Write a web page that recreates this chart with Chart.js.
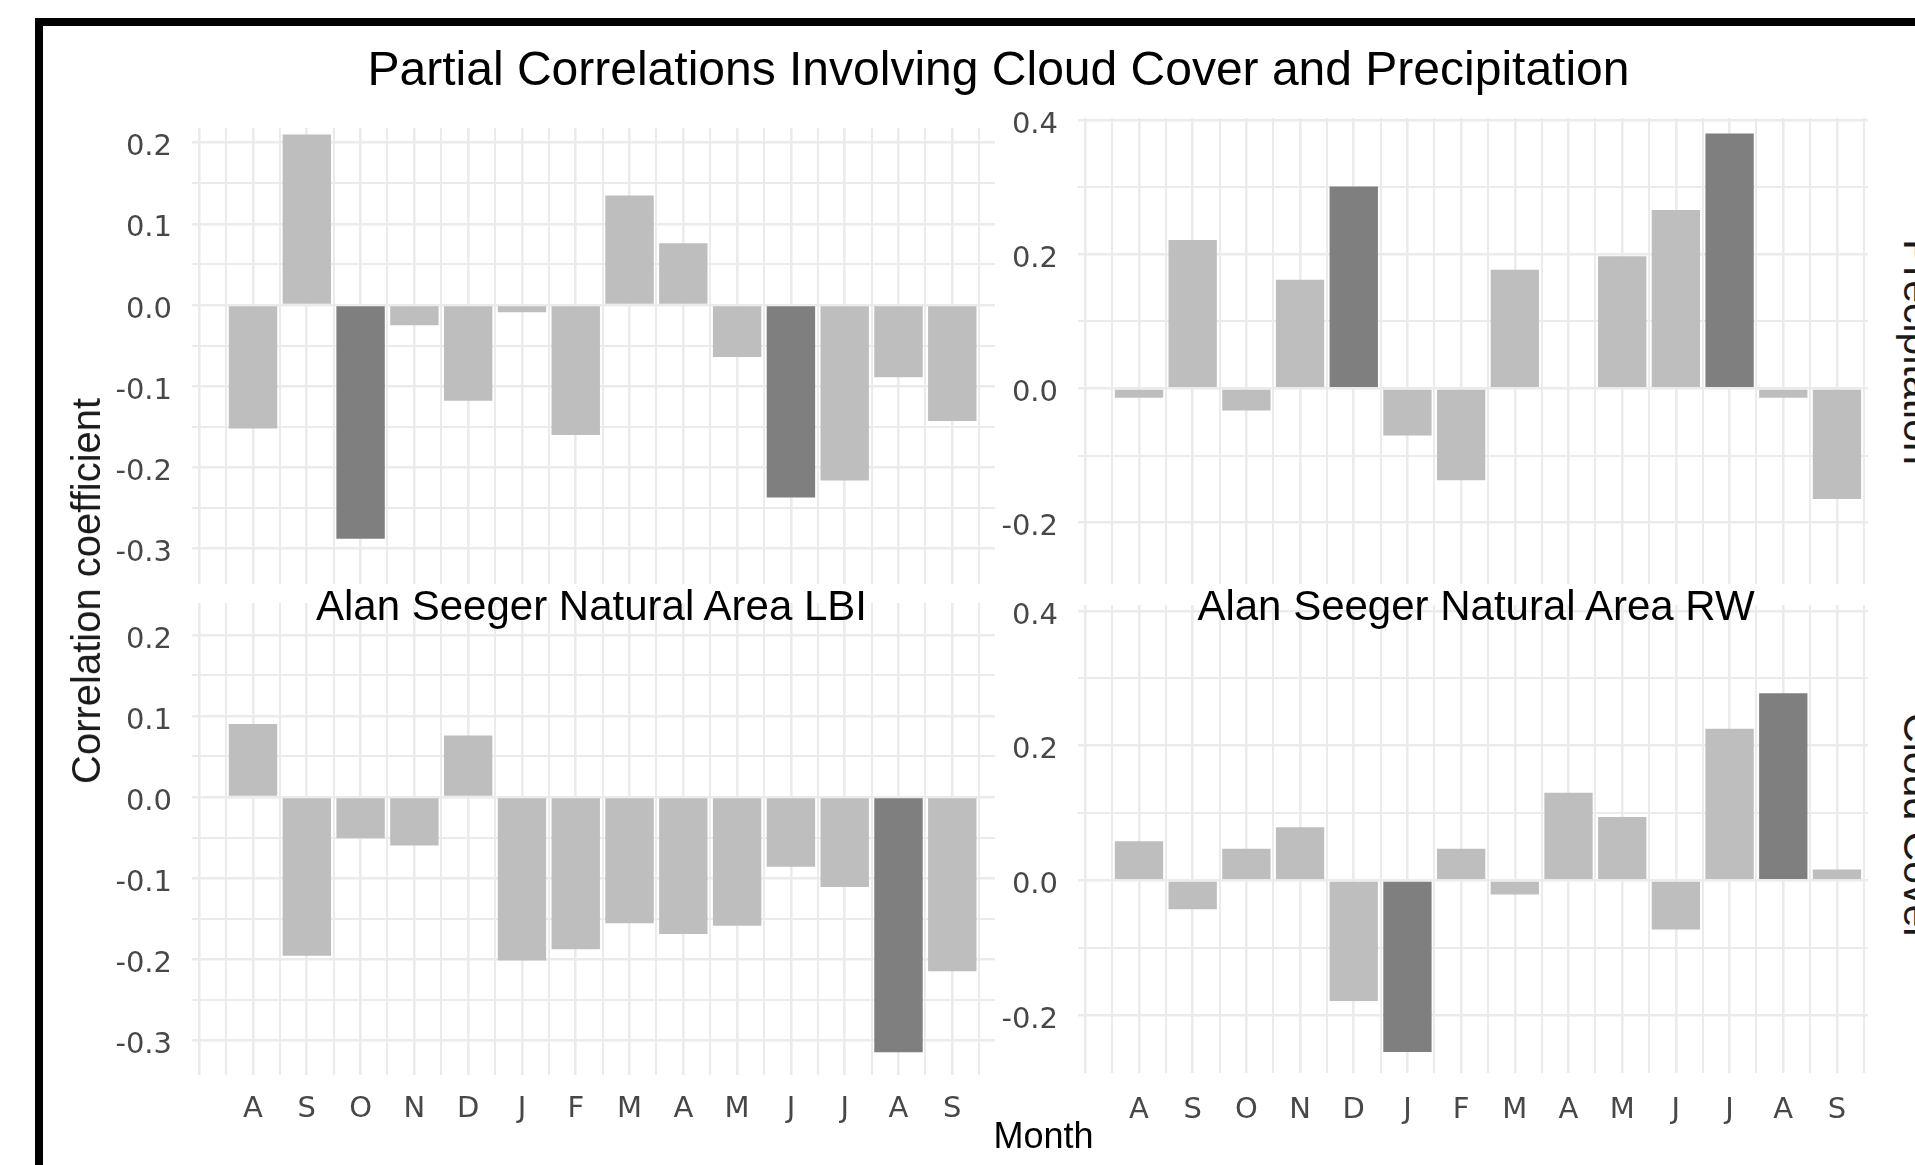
<!DOCTYPE html>
<html>
<head>
<meta charset="utf-8">
<script src="https://cdn.jsdelivr.net/npm/chart.js@4/dist/chart.umd.min.js"></script>
<style>
html, body { margin:0; padding:0; background:#fff; overflow:hidden; width:1915px; height:1165px; }
.frame { position:absolute; left:35px; top:18px; width:2000px; height:1300px; border:8px solid #000; box-sizing:border-box; }
canvas { position:absolute; }
.t { position:absolute; white-space:nowrap; font-family:"Liberation Sans", Arial, sans-serif; line-height:1; color:#000; }
</style>
</head>
<body>
<div class="frame"></div>
<canvas id="tl" width="903" height="536" style="left:92px;top:88px"></canvas>
<canvas id="bl" width="903" height="602" style="left:92px;top:563px"></canvas>
<canvas id="tr" width="890" height="546" style="left:978px;top:78px"></canvas>
<canvas id="br" width="890" height="600" style="left:978px;top:565px"></canvas>

<div class="t" style="font-size:48px;left:998.5px;top:45.4px;transform:translateX(-50%)">Partial Correlations Involving Cloud Cover and Precipitation</div>
<div class="t" style="font-size:42px;left:591.5px;top:585.4px;transform:translateX(-50%)">Alan Seeger Natural Area LBI</div>
<div class="t" style="font-size:42px;left:1476px;top:585.4px;transform:translateX(-50%)">Alan Seeger Natural Area RW</div>
<div class="t" style="font-size:36px;left:1043.6px;top:1117.8px;transform:translateX(-50%)">Month</div>
<div class="t" style="font-size:40px;left:86px;top:591px;color:#1a1a1a;transform:translate(-50%,-50%) rotate(-90deg)">Correlation coefficient</div>
<div class="t" style="font-size:41px;left:1917px;top:351.7px;color:#1a1a1a;transform:translate(-50%,-50%) rotate(90deg)">Precipitation</div>
<div class="t" style="font-size:41px;left:1917px;top:826.7px;color:#1a1a1a;transform:translate(-50%,-50%) rotate(90deg)">Cloud Cover</div>

<script>
// ---- data ----
const months = ['A','S','O','N','D','J','F','M','A','M','J','J','A','S'];

const precipLBI    = [-0.152, 0.210, -0.288, -0.025, -0.118, -0.009, -0.160, 0.135, 0.076, -0.064, -0.237, -0.216, -0.089, -0.143];
const precipLBISig = [2, 10];
const cloudLBI     = [0.090, -0.196, -0.051, -0.060, 0.076, -0.202, -0.188, -0.156, -0.169, -0.159, -0.086, -0.111, -0.315, -0.215];
const cloudLBISig  = [12];
const precipRW     = [-0.014, 0.221, -0.033, 0.162, 0.301, -0.070, -0.137, 0.177, 0.000, 0.197, 0.266, 0.380, -0.014, -0.165];
const precipRWSig  = [4, 11];
const cloudRW      = [0.058, -0.043, 0.047, 0.079, -0.179, -0.255, 0.047, -0.021, 0.130, 0.094, -0.073, 0.225, 0.278, 0.016];
const cloudRWSig   = [5, 12];

const yTicksLBI = [-0.3, -0.2, -0.1, 0.0, 0.1, 0.2];
const yMinorLBI = [-0.25, -0.15, -0.05, 0.05, 0.15];
const yTicksRW  = [-0.2, 0.0, 0.2, 0.4];
const yMinorRW  = [-0.1, 0.1, 0.3];

// ---- style ----
const LIGHT = '#bebebe';
const DARK  = '#7f7f7f';
const GRID  = '#ebebeb';
const TICK  = '#474747';
const TICK_FONT = { family: '"DejaVu Sans", "Liberation Sans", sans-serif', size: 29 };

const xMajor = [-1].concat(months.map((m, i) => i));
const xMinor = [-0.5].concat(months.map((m, i) => i + 0.5));

function makeChart(cfg) {
  const colors = cfg.values.map((v, i) => cfg.sig.includes(i) ? DARK : LIGHT);
  const yAll = cfg.yMajor.concat(cfg.yMinor).sort((a, b) => a - b);
  const isMajorY = v => cfg.yMajor.some(t => Math.abs(t - v) < 1e-9);
  new Chart(document.getElementById(cfg.id), {
    type: 'bar',
    data: {
      datasets: [{
        data: cfg.values.map((v, i) => ({ x: i, y: v })),
        backgroundColor: colors,
        borderWidth: 0,
        barPercentage: 0.9,
        categoryPercentage: 1.0
      }]
    },
    options: {
      responsive: false,
      animation: false,
      devicePixelRatio: 1,
      layout: { padding: { top: 40, bottom: cfg.padBottom, left: 0, right: 0 } },
      plugins: { legend: { display: false }, tooltip: { enabled: false }, title: { display: false } },
      scales: {
        x: {
          type: 'linear', axis: 'x', position: 'bottom',
          min: cfg.xMin, max: cfg.xMax, bounds: 'data', offset: false,
          afterBuildTicks: s => { s.ticks = xMajor.map(v => ({ value: v })); },
          afterFit: s => { s.height = cfg.xAxisH; },
          grid: { offset: false, color: GRID, lineWidth: 2.6, drawTicks: false },
          border: { display: false },
          ticks: {
            display: cfg.showX, autoSkip: false, maxRotation: 0, minRotation: 0,
            padding: cfg.xPad, color: TICK, font: TICK_FONT,
            callback: v => (Number.isInteger(v) && v >= 0 && v < months.length) ? months[v] : ''
          }
        },
        xMinor: {
          type: 'linear', axis: 'x', position: 'bottom',
          min: cfg.xMin, max: cfg.xMax, bounds: 'data', offset: false,
          afterBuildTicks: s => { s.ticks = xMinor.map(v => ({ value: v })); },
          afterFit: s => { s.height = 0; },
          grid: { offset: false, color: GRID, lineWidth: 2, drawTicks: false },
          border: { display: false },
          ticks: { display: false }
        },
        y: {
          type: 'linear', min: cfg.yMin, max: cfg.yMax, bounds: 'data',
          afterBuildTicks: s => { s.ticks = yAll.map(v => ({ value: v })); },
          afterFit: s => { s.width = 100; },
          grid: {
            color: GRID,
            lineWidth: ctx => (ctx.tick && isMajorY(ctx.tick.value)) ? 2.6 : 2,
            drawTicks: false
          },
          border: { display: false },
          ticks: {
            padding: 20, labelOffset: 5, color: TICK, font: TICK_FONT,
            callback: v => isMajorY(v) ? v.toFixed(1) : ''
          }
        }
      }
    }
  });
}

makeChart({ id: 'tl', values: precipLBI, sig: precipLBISig, yMajor: yTicksLBI, yMinor: yMinorLBI,
  yMin: -0.3436, yMax: 0.218, xMin: -1.134, xMax: 13.794, showX: false, xPad: 0, xAxisH: 0, padBottom: 40 });
makeChart({ id: 'bl', values: cloudLBI, sig: cloudLBISig, yMajor: yTicksLBI, yMinor: yMinorLBI,
  yMin: -0.3432, yMax: 0.2395, xMin: -1.134, xMax: 13.794, showX: true, xPad: 17, xAxisH: 90, padBottom: 0 });
makeChart({ id: 'tr', values: precipRW, sig: precipRWSig, yMajor: yTicksRW, yMinor: yMinorRW,
  yMin: -0.2915, yMax: 0.403, xMin: -1.136, xMax: 13.578, showX: false, xPad: 0, xAxisH: 0, padBottom: 40 });
makeChart({ id: 'br', values: cloudRW, sig: cloudRWSig, yMajor: yTicksRW, yMinor: yMinorRW,
  yMin: -0.286, yMax: 0.4089, xMin: -1.136, xMax: 13.578, showX: true, xPad: 20, xAxisH: 92, padBottom: 0 });
</script>
</body>
</html>
